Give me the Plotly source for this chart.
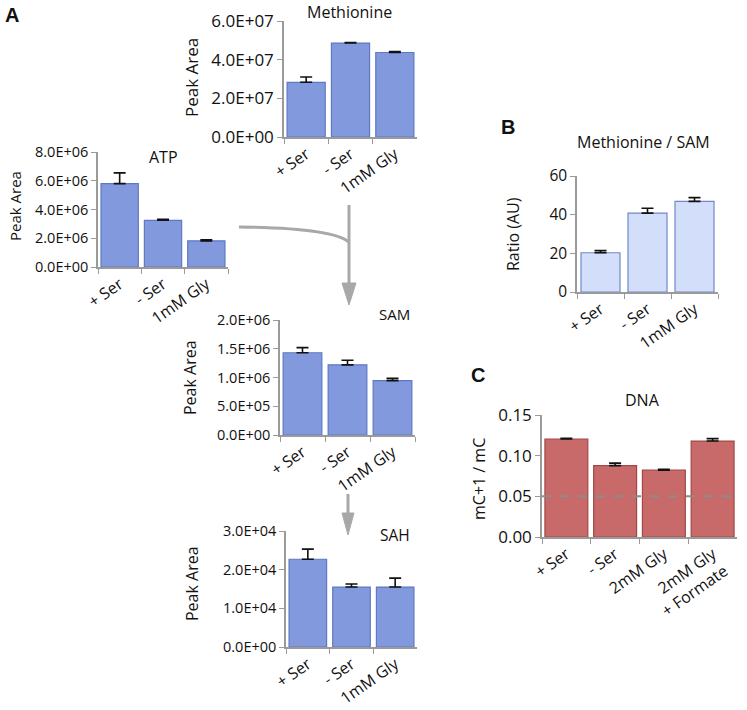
import plotly.graph_objects as go

W, H = 747, 710
FONT = "Open Sans, sans-serif"
TEXT = "#111111"
AXIS = "#9a9a9a"
ARROW = "#a8a8a8"
BLUE = "#8399de"
BLUE_EDGE = "#5f78c4"
LIGHT_BLUE = "#d3defa"
LIGHT_EDGE = "#6f89cc"
RED = "#c96a6a"
RED_EDGE = "#a24848"

# data
conditions = ["+ Ser", "- Ser", "1mM Gly"]
methionine = [2.83e7, 4.86e7, 4.37e7]
methionine_err = [0.27e7, 0.03e7, 0.05e7]
atp = [5.8e6, 3.25e6, 1.82e6]
atp_err = [0.75e6, 0.06e6, 0.08e6]
sam = [1.43e6, 1.22e6, 0.945e6]
sam_err = [0.09e6, 0.08e6, 0.04e6]
sah = [2.27e4, 1.55e4, 1.55e4]
sah_err = [0.26e4, 0.08e4, 0.23e4]

ratio = [20.3, 40.8, 46.9]
ratio_err = [1.1, 2.5, 1.9]

dna_conditions = ["+ Ser", "- Ser", "2mM Gly", "2mM Gly<br>+ Formate"]
dna = [0.1205, 0.0878, 0.0822, 0.1180]
dna_err = [0.0008, 0.003, 0.001, 0.003]
dna_baseline = 0.05

met_ticks = [0, 2e7, 4e7, 6e7]
atp_ticks = [0, 2e6, 4e6, 6e6, 8e6]
sam_ticks = [0, 5e5, 1e6, 1.5e6, 2e6]
sah_ticks = [0, 1e4, 2e4, 3e4]
ratio_ticks = [0, 20, 40, 60]
dna_ticks = [0, 0.05, 0.10, 0.15]


def px(x, y):
    return x / W, 1 - y / H


def sci(v):
    return f"{v:.1E}"


# panel boxes in pixels: (left, right, top, bottom)
PANELS = {
    "met": (284, 417, 21, 137),
    "atp": (98, 228, 152, 267),
    "sam": (280, 415, 320, 435),
    "sah": (286, 417, 531, 647),
    "ratio": (577, 718, 176, 292),
    "dna": (542, 737, 415, 537),
}

fig = go.Figure()


def add_panel(i, key, cats, values, errs, color, edge, ticks, ticktext, ysize, xsize, gap):
    l, r, t, b = PANELS[key]
    xa = "x" if i == 1 else f"x{i}"
    ya = "y" if i == 1 else f"y{i}"
    fig.add_trace(
        go.Bar(
            x=cats,
            y=values,
            xaxis=xa,
            yaxis=ya,
            width=1 - gap,
            marker=dict(color=color, line=dict(color=edge, width=1.2)),
            error_y=dict(
                type="data",
                symmetric=False,
                array=errs,
                arrayminus=[0] * len(errs),
                color="#111111",
                thickness=1.6,
                width=6,
            ),
            hoverinfo="skip",
        )
    )
    x0, _ = px(l, 0)
    x1, _ = px(r, 0)
    _, y0 = px(0, b)
    _, y1 = px(0, t)
    axis_common = dict(
        showline=True,
        linecolor=AXIS,
        linewidth=1.5,
        ticks="outside",
        ticklen=5,
        tickcolor=AXIS,
        showgrid=False,
        zeroline=False,
        automargin=False,
    )
    fig.update_layout(
        {
            ("xaxis" if i == 1 else f"xaxis{i}"): dict(
                domain=[x0, x1],
                anchor=ya,
                type="category",
                tickangle=-35,
                tickson="boundaries",
                tickfont=dict(family=FONT, size=xsize, color=TEXT),
                **axis_common,
            ),
            ("yaxis" if i == 1 else f"yaxis{i}"): dict(
                domain=[y0, y1],
                anchor=xa,
                range=[ticks[0], ticks[-1]],
                tickvals=ticks,
                ticktext=ticktext,
                tickfont=dict(family=FONT, size=ysize, color=TEXT),
                **axis_common,
            ),
        }
    )


add_panel(1, "met", conditions, methionine, methionine_err, BLUE, BLUE_EDGE,
          met_ticks, [sci(v) for v in met_ticks], 17, 16, 0.14)
add_panel(2, "atp", conditions, atp, atp_err, BLUE, BLUE_EDGE,
          atp_ticks, [sci(v) for v in atp_ticks], 14.5, 16, 0.14)
add_panel(3, "sam", conditions, sam, sam_err, BLUE, BLUE_EDGE,
          sam_ticks, [sci(v) for v in sam_ticks], 14.5, 16, 0.14)
add_panel(4, "sah", conditions, sah, sah_err, BLUE, BLUE_EDGE,
          sah_ticks, [sci(v) for v in sah_ticks], 14.5, 16, 0.14)
add_panel(5, "ratio", conditions, ratio, ratio_err, LIGHT_BLUE, LIGHT_EDGE,
          ratio_ticks, [f"{v:g}" for v in ratio_ticks], 15.5, 16, 0.17)
add_panel(6, "dna", dna_conditions, dna, dna_err, RED, RED_EDGE,
          dna_ticks, [f"{v:.2f}" for v in dna_ticks], 17, 16, 0.12)

# dashed baseline in panel C
fig.add_shape(
    type="line", xref="x6 domain", yref="y6", x0=0, x1=1, y0=dna_baseline, y1=dna_baseline,
    line=dict(color="#8c8c8c", width=2, dash="dash"), layer="above",
)

# titles, axis titles and panel letters: (text, x, y, size, angle, bold)
labels = [
    ("Methionine", 349, 12, 16, 0, False),
    ("ATP", 163, 157, 16, 0, False),
    ("SAM", 394, 314, 15, 0, False),
    ("SAH", 395, 535, 15.5, 0, False),
    ("Methionine / SAM", 643, 142, 16, 0, False),
    ("DNA", 642, 400, 16, 0, False),
    ("Peak Area", 192, 77, 17, -90, False),
    ("Peak Area", 15, 206, 15, -90, False),
    ("Peak Area", 190, 378, 16, -90, False),
    ("Peak Area", 192, 583, 16, -90, False),
    ("Ratio (AU)", 513, 234, 16, -90, False),
    ("mC+1 / mC", 479, 479, 16, -90, False),
    ("A", 12, 15, 20, 0, True),
    ("B", 508, 127, 20, 0, True),
    ("C", 478, 375, 20, 0, True),
]
for text, x, y, size, angle, bold in labels:
    ax, ay = px(x, y)
    fig.add_annotation(
        text=f"<b>{text}</b>" if bold else text,
        x=ax, y=ay, xref="paper", yref="paper",
        showarrow=False, xanchor="center", yanchor="middle", textangle=angle,
        font=dict(family="Liberation Sans, Arial, sans-serif" if bold else FONT, size=size, color=TEXT),
    )


def path(points, close=False):
    coords = [px(x, y) for x, y in points]
    s = f"M {coords[0][0]},{coords[0][1]}"
    for cx, cy in coords[1:]:
        s += f" L {cx},{cy}"
    return s + (" Z" if close else "")


# pathway arrows
c0 = px(239, 227)
c1 = px(332, 228)
c2 = px(349, 242)
fig.add_shape(
    type="path", xref="paper", yref="paper",
    path=f"M {c0[0]},{c0[1]} Q {c1[0]},{c1[1]} {c2[0]},{c2[1]}",
    line=dict(color=ARROW, width=3),
)
fig.add_shape(type="path", xref="paper", yref="paper",
              path=path([(349, 205), (349, 285)]), line=dict(color=ARROW, width=3))
fig.add_shape(type="path", xref="paper", yref="paper",
              path=path([(342, 283), (356, 283), (349, 305)], close=True),
              fillcolor=ARROW, line=dict(color=ARROW, width=1))
fig.add_shape(type="path", xref="paper", yref="paper",
              path=path([(348, 494), (348, 514)]), line=dict(color=ARROW, width=3))
fig.add_shape(type="path", xref="paper", yref="paper",
              path=path([(342, 513), (354, 513), (348, 535)], close=True),
              fillcolor=ARROW, line=dict(color=ARROW, width=1))

fig.update_layout(
    width=W,
    height=H,
    showlegend=False,
    paper_bgcolor="white",
    plot_bgcolor="white",
    margin=dict(l=0, r=0, t=0, b=0, autoexpand=False),
    font=dict(family=FONT, size=15, color=TEXT),
)

# the page body has a default margin; drop it so the figure fills the window
fig.write_html(
    "out.html",
    config={"displayModeBar": False},
    post_script="document.body.style.margin = '0';",
)
